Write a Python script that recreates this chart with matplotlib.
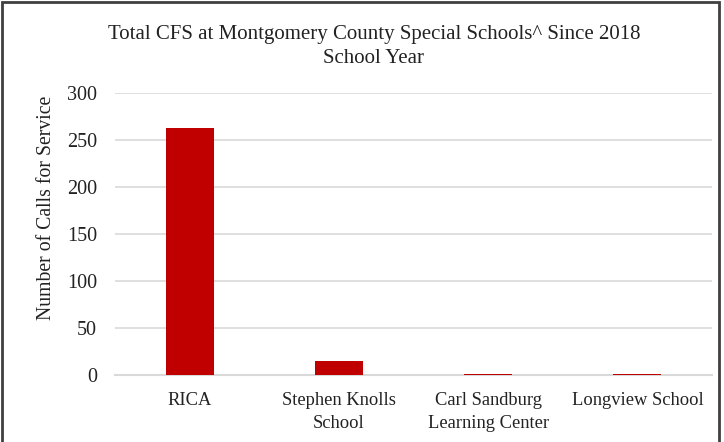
import matplotlib
matplotlib.use("Agg")
import matplotlib.pyplot as plt
from matplotlib.patches import Rectangle

categories = ["RICA", "Stephen Knolls\nSchool", "Carl Sandburg\nLearning Center", "Longview School"]
values = [263, 15, 1, 1]
yticks = [0, 50, 100, 150, 200, 250, 300]

plt.rcParams['font.family'] = ['Liberation Serif', 'DejaVu Serif']

W, H = 724, 442
fig = plt.figure(figsize=(W/100, H/100), dpi=100)
ax = fig.add_axes([115/W, 1-375/H, (712-115)/W, (375-93)/H])

x = list(range(len(categories)))
ax.bar(x, values, width=0.32, color="#c00000", zorder=3)
ax.set_xlim(-0.5, len(categories)-0.5)
ax.set_ylim(0, 300)
ax.set_yticks(yticks)
ax.set_xticks(x)
ax.set_xticklabels(categories, fontsize=13.3, color="#222222", linespacing=1.45)
ax.tick_params(axis='y', labelsize=14.5, colors="#222222", length=0, pad=13)
ax.tick_params(axis='x', length=0, pad=12)
ax.grid(axis='y', color="#d9d9d9", linewidth=1.2, zorder=0)
for s in ['top', 'right', 'left']:
    ax.spines[s].set_visible(False)
ax.spines['bottom'].set_color("#d9d9d9")
ax.spines['bottom'].set_linewidth(1.5)

fig.text(47/W, 1-208/H, "Number of Calls for Service", rotation=90, ha='center', va='center',
         fontsize=14.2, color="#222222")

fig.text(374/W, 1-46.5/H, "Total CFS at Montgomery County Special Schools^ Since 2018\nSchool Year",
         ha='center', va='center', fontsize=15, color="#222222", linespacing=1.38)

fig.patches.append(Rectangle((2/W, -0.05), (719-2)/W, 1-2/H+0.05, transform=fig.transFigure,
                             fill=False, edgecolor="#404040", linewidth=2))

fig.savefig("out.png", dpi=100)
